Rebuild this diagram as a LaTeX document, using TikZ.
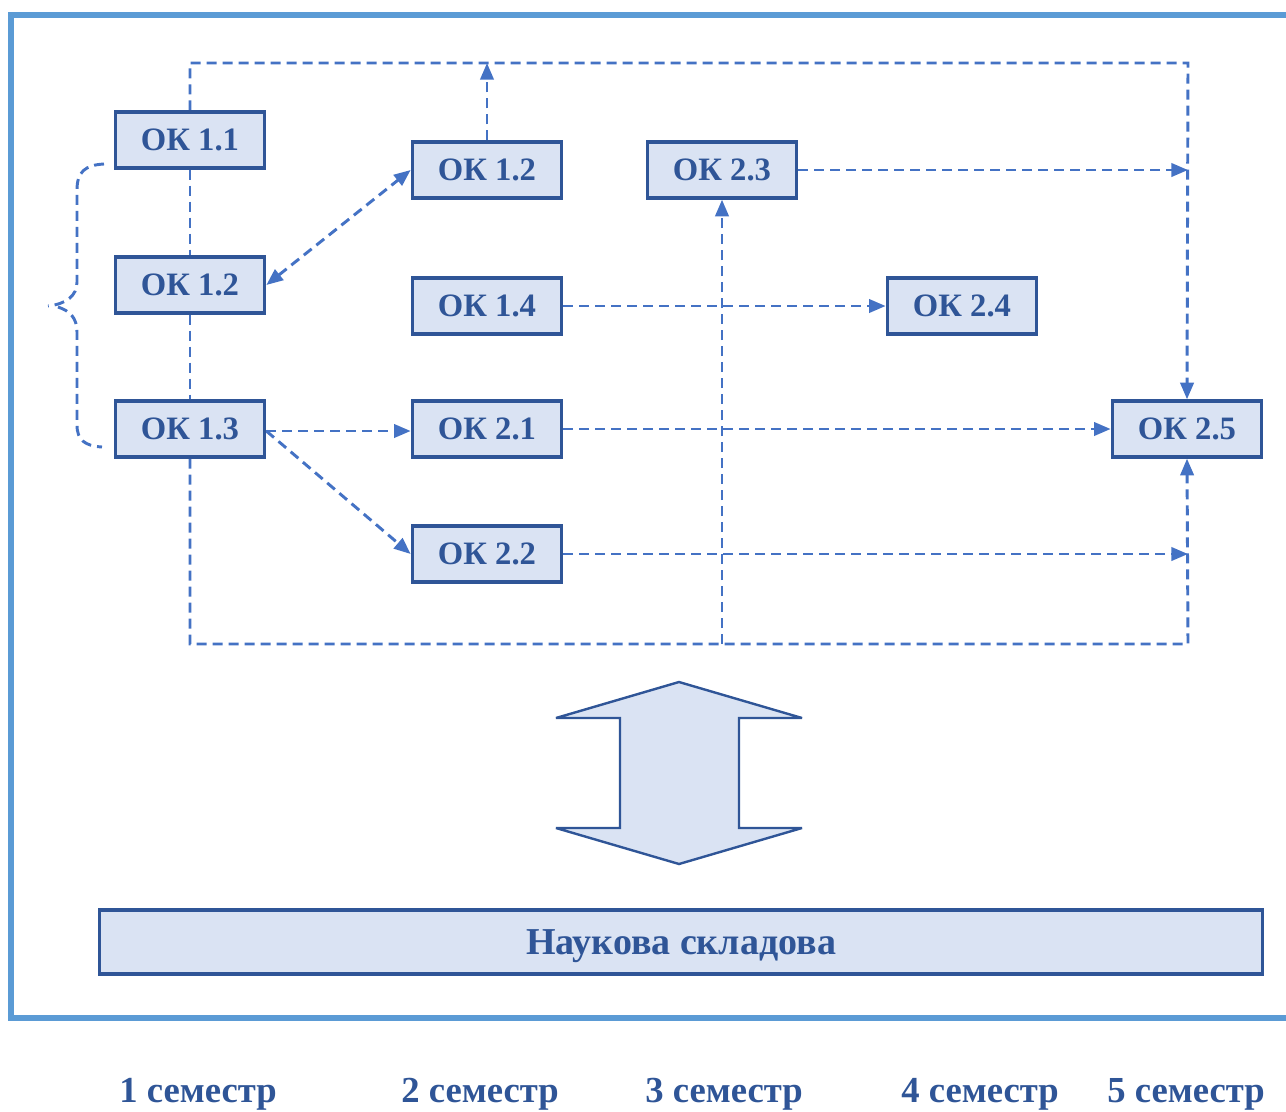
\documentclass[tikz,border=0pt]{standalone}
\usepackage{fontspec}
\setmainfont{Liberation Serif}
\usetikzlibrary{arrows.meta,backgrounds}
\definecolor{frameblue}{HTML}{5B9BD5}
\definecolor{boxfill}{HTML}{DAE3F3}
\definecolor{boxline}{HTML}{2F5597}
\definecolor{linkblue}{HTML}{4472C4}
\begin{document}
\begin{tikzpicture}[x=0.75pt,y=-0.75pt,
  okbox/.style={draw=boxline, fill=boxfill, line width=2.5pt, minimum width=112pt,
    minimum height=42pt, inner sep=0pt, text=boxline,
    font=\fontsize{24.5}{28}\selectfont\bfseries, text height=16pt, text depth=0pt},
  dl/.style={draw=linkblue, line width=2.2pt, dash pattern=on 7.5pt off 4.5pt},
  tipend/.style={-{Triangle[length=12.5pt,width=10pt]}},
  tipboth/.style={{Triangle[length=12.5pt,width=10pt]}-{Triangle[length=12.5pt,width=10pt]}},
  semlabel/.style={text=boxline, font=\fontsize{27.5}{32}\selectfont\bfseries, anchor=base, inner sep=0pt}
]
\useasboundingbox (0,0) rectangle (1286,1111);
% outer frame
\draw[frameblue, line width=4.5pt] (1290,15) -- (11,15) -- (11,1018) -- (1290,1018);

% boxes
\node[okbox] (b11) at (190,140) {ОК 1.1};
\node[okbox] (b12) at (190,285) {ОК 1.2};
\node[okbox] (b13) at (190,429) {ОК 1.3};
\node[okbox] (b12r) at (487,170) {ОК 1.2};
\node[okbox] (b14) at (487,306) {ОК 1.4};
\node[okbox] (b21) at (487,429) {ОК 2.1};
\node[okbox] (b22) at (487,554) {ОК 2.2};
\node[okbox] (b23) at (722,170) {ОК 2.3};
\node[okbox] (b24) at (962,306) {ОК 2.4};
\node[okbox] (b25) at (1187,429) {ОК 2.5};

\node[okbox, minimum width=872pt, minimum height=48pt, font=\fontsize{28.5}{32}\selectfont\bfseries, text height=18.8pt]
  (sci) at (681,942) {Наукова складова};

\coordinate (tr) at (1188,63);
\coordinate (br) at (1188,644);

\begin{scope}[on background layer]
  \draw[dl] (b11) -- (b12);
  \draw[dl] (b12) -- (b13);
  \draw[dl, tipend] (b11.north) |- (tr) -- (b25.north);
  \draw[dl, tipend] (b13.south) |- (br) -- (b25.south);
  \draw[dl, tipend] (b12r.north) -- (b12r.north |- tr);
  \draw[dl, tipend] (b23.south |- br) -- (b23.south);
  \draw[dl, tipend] (b23.east) -- (tr |- b23.east);
  \draw[dl, tipend] (b14.east) -- (b24.west);
  \draw[dl, tipend] (b21.east) -- (b25.west);
  \draw[dl, tipend] (b22.east) -- (tr |- b22.east);
  \draw[dl, tipend] ([yshift=-1.5pt]b13.east) -- ([yshift=-1.5pt]b21.west);
  \draw[dl, tipend] ([yshift=-1.5pt]b13.east) -- (b22.west);
  \draw[dl, tipboth] (b12.east) -- (b12r.west);
  % brace
  \draw[dl] (104,164) .. controls (85,165) and (77,172) .. (77,190) -- (77,282)
     .. controls (77,296) and (66,304) .. (48,306);
  \draw[dl] (58,307) .. controls (70,311) and (77,318) .. (77,332) -- (77,425)
     .. controls (77,440) and (85,446) .. (102,447);
\end{scope}

% double arrow
\draw[boxline, fill=boxfill, line width=1.8pt, line join=miter, miter limit=2]
  (679,682) -- (802,718) -- (739,718) -- (739,828) -- (802,828) -- (679,864)
  -- (556,828) -- (620,828) -- (620,718) -- (556,718) -- cycle;

% semester labels
\node[semlabel] (s1) at (198,1102) {1 семестр};
\node[semlabel] (s2) at (480,1102) {2 семестр};
\node[semlabel] (s3) at (724,1102) {3 семестр};
\node[semlabel] (s4) at (980,1102) {4 семестр};
\node[semlabel] (s5) at (1186,1102) {5 семестр};
\end{tikzpicture}
\end{document}
